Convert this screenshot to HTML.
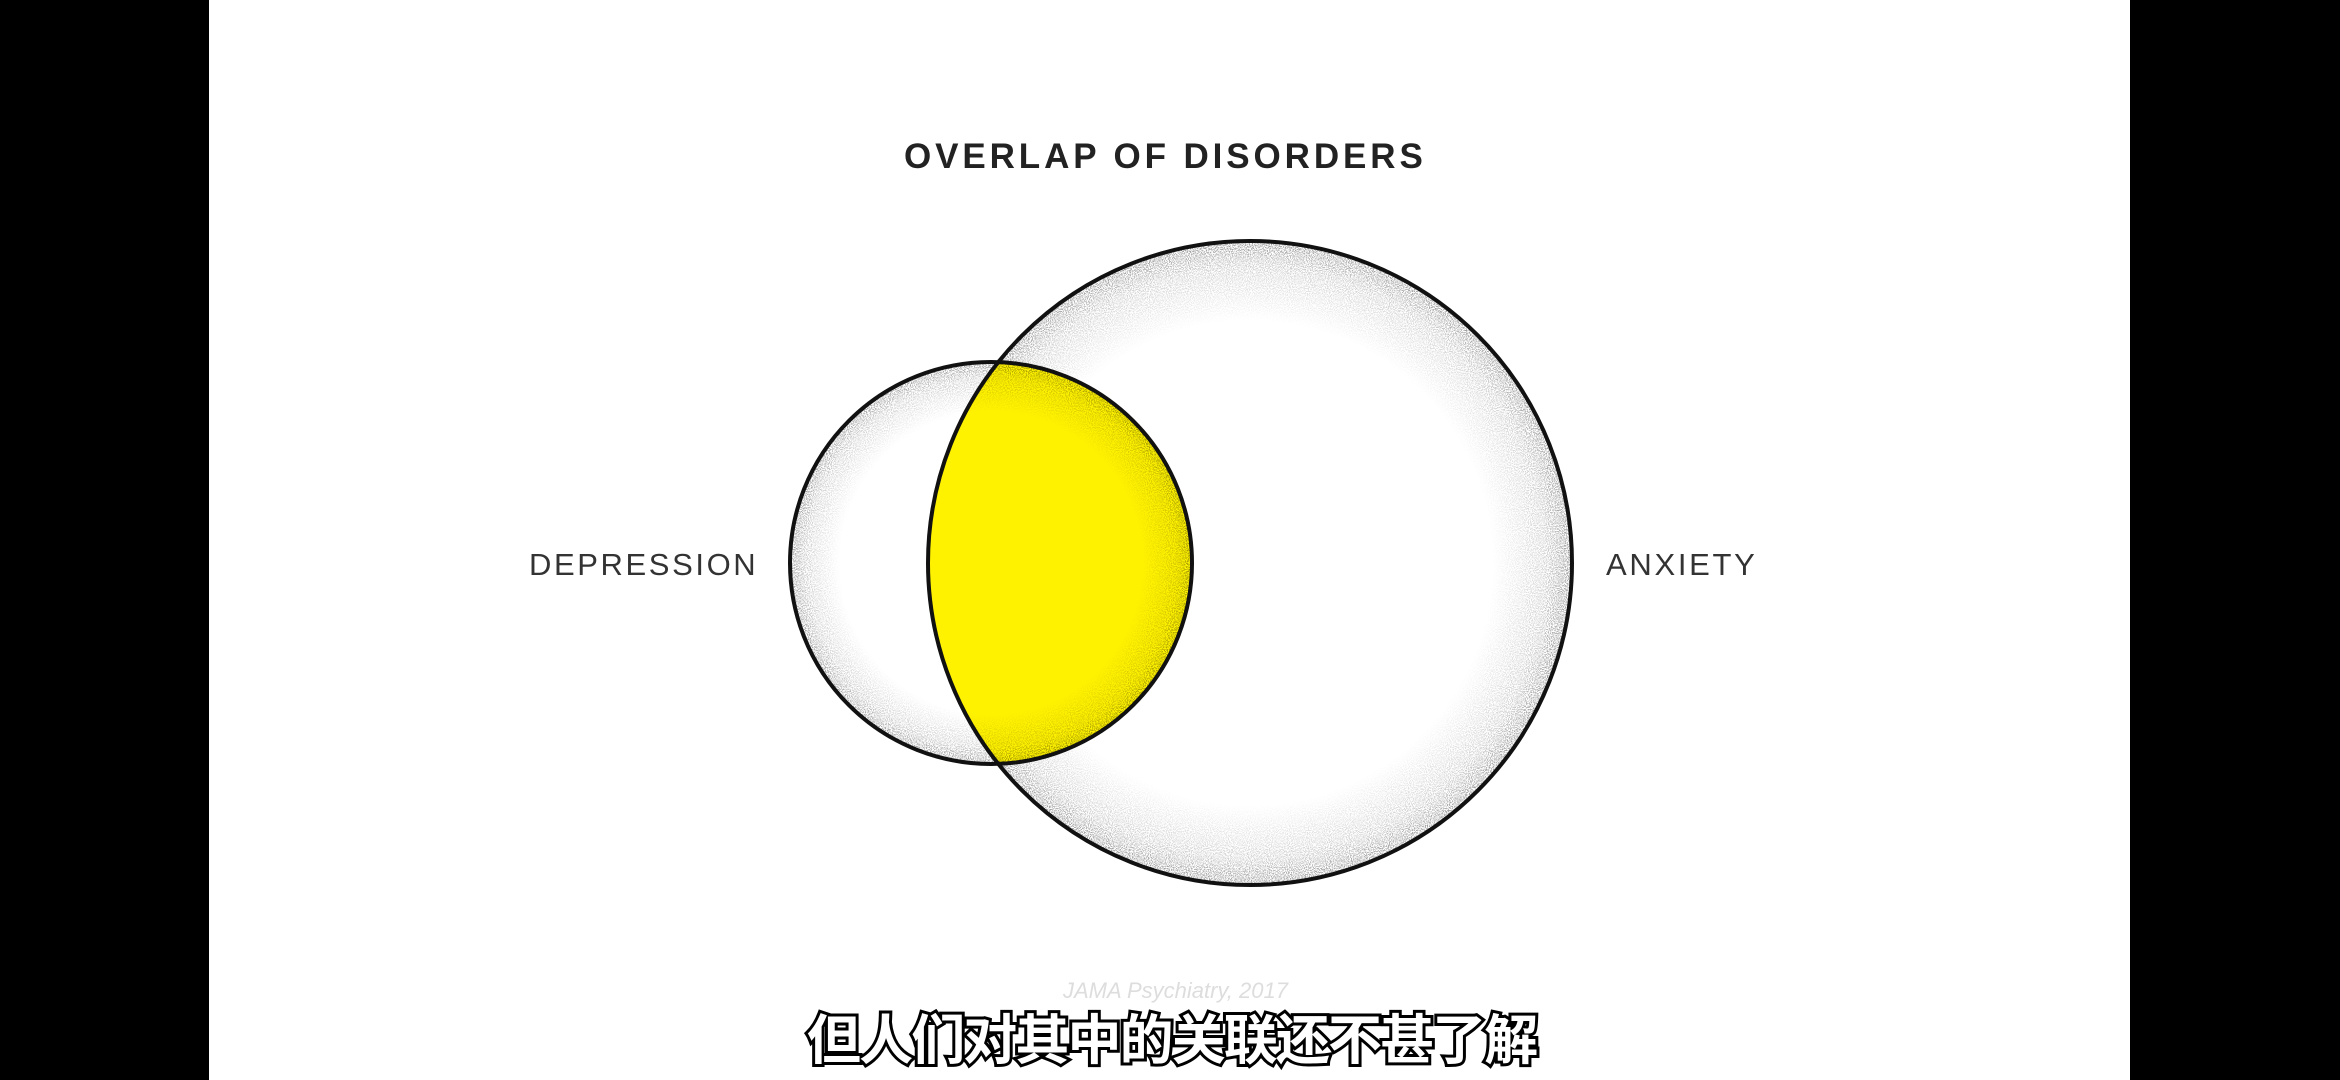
<!DOCTYPE html>
<html><head><meta charset="utf-8"><style>
html,body{margin:0;padding:0;}
body{width:2340px;height:1080px;background:#000;position:relative;overflow:hidden;font-family:"Liberation Sans","Noto Sans CJK SC",sans-serif;}
#page{position:absolute;left:209px;top:0;width:1921px;height:1080px;background:#fff;}
.t{position:absolute;white-space:nowrap;}
</style></head><body>
<div id="page"></div>
<svg style="position:absolute;left:0;top:0" width="2340" height="1080">
<defs>
<filter id="noise" x="0" y="0" width="100%" height="100%">
<feTurbulence type="fractalNoise" baseFrequency="0.95" numOctaves="2" seed="3"/>
<feColorMatrix type="matrix" values="0 0 0 0 0  0 0 0 0 0  0 0 0 0 0  0 0 0 -7 3.8"/>
</filter>
<radialGradient id="edge" cx="0.5" cy="0.5" r="0.5">
<stop offset="0.75" stop-color="#000"/>
<stop offset="0.92" stop-color="#555"/>
<stop offset="1" stop-color="#bbb"/>
</radialGradient>
<mask id="mb"><circle cx="1250" cy="563" r="322" fill="url(#edge)"/></mask>
<mask id="ms"><circle cx="991" cy="563" r="201" fill="url(#edge)"/></mask>
<clipPath id="cb"><circle cx="1250" cy="563" r="322"/></clipPath>
<clipPath id="cs"><circle cx="991" cy="563" r="201"/></clipPath>
</defs>
<circle cx="1250" cy="563" r="322" fill="#fff"/>
<rect x="928" y="241" width="644" height="644" filter="url(#noise)" mask="url(#mb)" opacity="0.55"/>
<circle cx="991" cy="563" r="201" fill="#fff"/>
<g clip-path="url(#cs)">
<g clip-path="url(#cb)">
<rect x="790" y="362" width="402" height="402" fill="#fff200"/>
</g>
</g>
<rect x="790" y="362" width="402" height="402" filter="url(#noise)" mask="url(#ms)" opacity="0.55"/>
<circle cx="1250" cy="563" r="322" fill="none" stroke="#111" stroke-width="4"/>
<circle cx="991" cy="563" r="201" fill="none" stroke="#111" stroke-width="4"/>
</svg>
<div class="t" style="left:904px;top:137px;font-size:35px;font-weight:bold;letter-spacing:3.9px;color:#222;">OVERLAP OF DISORDERS</div>
<div class="t" style="left:529px;top:547px;font-size:31px;letter-spacing:2.6px;color:#333;">DEPRESSION</div>
<div class="t" style="left:1606px;top:547px;font-size:31px;letter-spacing:2.7px;color:#333;">ANXIETY</div>
<div class="t" style="left:1063px;top:978px;font-size:22px;font-style:italic;color:#ddd;">JAMA Psychiatry, 2017</div>
<div class="t" style="left:807px;top:996px;font-size:54px;font-weight:bold;color:#fff;-webkit-text-stroke:6px #000;paint-order:stroke fill;letter-spacing:-1.9px;">但人们对其中的关联还不甚了解</div>
</body></html>
